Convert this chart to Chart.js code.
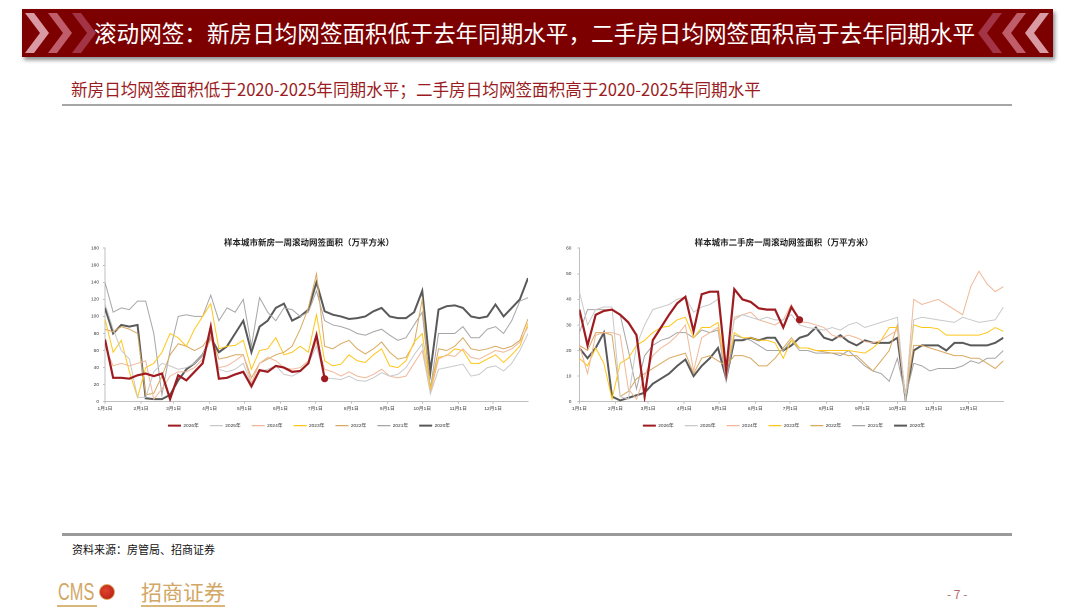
<!DOCTYPE html>
<html><head><meta charset="utf-8">
<script src="https://cdn.jsdelivr.net/npm/chart.js@4.4.1/dist/chart.umd.min.js"></script>
<style>
html,body{margin:0;padding:0;background:#fff;}
body{width:1080px;height:608px;position:relative;overflow:hidden;font-family:"Noto Sans CJK SC","Noto Sans",sans-serif;}
#banner{position:absolute;left:22px;top:9px;width:1031px;height:48px;background:#7d0000;box-shadow:2px 3px 4px rgba(0,0,0,0.45);}
#banner svg{position:absolute;left:0;top:0;}
#title{position:absolute;left:94px;top:9px;height:48px;line-height:48px;color:#fff;font-size:22.6px;white-space:nowrap;}
#subtitle{position:absolute;left:71px;top:78px;line-height:22px;color:#9a1c22;font-size:16.6px;white-space:nowrap;}
.hline{position:absolute;left:62px;width:950px;}
#source{position:absolute;left:72px;top:540px;font-size:11px;line-height:18px;color:#111;white-space:nowrap;}
#logoCMS{position:absolute;left:58px;top:577px;font-family:"Liberation Sans",sans-serif;font-size:24px;line-height:30px;color:#d2a766;transform:scaleX(0.68);transform-origin:left top;}
#logoIcon{position:absolute;left:99px;top:584px;width:16px;height:16px;border-radius:50%;background:radial-gradient(circle at 40% 40%,#e0452c,#b01812);border:1px solid #d9a55a;box-sizing:border-box;}
#logoCN{position:absolute;left:141px;top:577px;font-size:21px;line-height:28px;color:#d2a766;white-space:nowrap;}
.uline{position:absolute;top:605px;height:1.5px;background:#d9b77a;}
#page{position:absolute;left:947px;top:585px;font-size:12px;line-height:18px;color:#b56a6a;white-space:nowrap;}
.chartbox{position:absolute;}
</style>
</head>
<body>
<div id="banner">
<svg width="1031" height="48" viewBox="0 0 1031 48">
  <polygon points="3,4 12,4 27,24 12,44 3,44 18,24" fill="#d99aa3"/>
  <polygon points="26,4 35,4 50,24 35,44 26,44 41,24" fill="#bf5d6a"/>
  <polygon points="50,4 59,4 74,24 59,44 50,44 65,24" fill="#a23445"/>
  <polygon points="980,4 971,4 956,24 971,44 980,44 965,24" fill="#a23445"/>
  <polygon points="1004,4 995,4 980,24 995,44 1004,44 989,24" fill="#bf5d6a"/>
  <polygon points="1027,4 1018,4 1003,24 1018,44 1027,44 1012,24" fill="#d99aa3"/>
</svg>
</div>
<div id="title">滚动网签：新房日均网签面积低于去年同期水平，二手房日均网签面积高于去年同期水平</div>
<div id="subtitle">新房日均网签面积低于2020-2025年同期水平；二手房日均网签面积高于2020-2025年同期水平</div>
<div class="hline" style="top:104px;height:2px;background:#a6a6a6;"></div>

<div class="chartbox" style="left:60px;top:235px;width:480px;height:203px;"><canvas id="cvNew" width="480" height="203"></canvas></div>
<div class="chartbox" style="left:540px;top:235px;width:476px;height:203px;"><canvas id="cvSec" width="476" height="203"></canvas></div>

<div class="hline" style="top:533px;height:2.5px;background:#9a9a9a;"></div>
<div id="source">资料来源：房管局、招商证券</div>
<div id="logoCMS">CMS</div>
<div id="logoIcon"></div>
<div id="logoCN">招商证券</div>
<div class="uline" style="left:57px;width:40px;"></div>
<div class="uline" style="left:141px;width:84px;"></div>
<div id="page">- 7 -</div>

<script>
// ---- categories (day of year, weekly samples) ----
const weekDays = [0,7,14,21,28,35,42,49,56,63,70,77,84,91,98,105,112,119,126,133,140,147,154,161,168,175,182,189,196,203,210,217,224,231,238,245,252,259,266,273,280,287,294,301,308,315,322,329,336,343,350,357,364];
const monthTickDays = [0,31,59,90,120,151,181,212,243,273,304,334];
const monthTickLabels = ['1月1日','2月1日','3月1日','4月1日','5月1日','6月1日','7月1日','8月1日','9月1日','10月1日','11月1日','12月1日'];
const seriesNames = ['2026年','2025年','2024年','2023年','2022年','2021年','2020年'];

// ---- new homes: weekly rolling signed area (万平方米) ----
const newTicksY = [0,20,40,60,80,100,120,140,160,180];
const new2026 = [73,28,28,27,31,33,30,33,3,31,25,35,45,88,27,28,32,35,18,37,35,42,40,35,36,45,78,27];
const new2025 = [115,85,60,50,5,5,35,45,42,38,40,45,55,80,38,35,38,45,20,35,38,42,32,30,35,45,65,28,27,26,30,25,24,28,34,30,32,40,55,68,9,38,40,42,44,30,32,40,42,36,45,60,80];
const new2024 = [65,42,45,42,45,48,3,15,30,35,35,40,50,75,40,42,48,55,22,45,52,48,40,38,40,48,70,38,35,30,35,30,28,32,38,30,28,30,45,60,10,50,55,53,62,52,50,55,60,58,62,70,88];
const new2023 = [97,58,72,35,5,40,45,58,80,75,65,85,100,115,62,65,66,72,38,60,62,75,55,58,65,58,102,48,42,44,55,48,46,55,62,42,40,48,70,80,15,52,54,62,60,45,45,50,55,46,55,65,92];
const new2022 = [85,82,88,85,80,8,10,30,55,68,65,60,65,78,50,52,55,55,28,45,50,55,58,65,85,110,150,65,62,68,72,62,56,62,70,58,50,52,68,120,12,62,60,65,75,62,60,62,65,62,65,72,97];
const new2021 = [140,105,110,108,118,118,80,8,60,100,102,100,100,125,95,110,105,120,65,122,105,95,110,108,100,105,130,95,90,88,85,80,78,82,85,78,72,75,90,105,15,80,80,80,88,75,75,85,88,80,95,118,122];
const new2020 = [110,80,90,88,90,4,3,3,8,25,38,45,55,75,58,65,80,95,58,88,95,110,115,95,100,108,140,106,102,100,97,98,100,106,110,100,98,98,105,130,35,108,112,113,110,100,98,100,114,100,110,120,145];

// ---- second-hand homes: weekly rolling signed area (万平方米) ----
const secTicksY = [0,10,20,30,40,50,60];
const sec2026 = [36,22,34,35.5,36,34,31,26,2,24,29,34,38.5,41,27.5,42,43,43,12,44,40,39,36.5,36,36,29,37,32];
const sec2025 = [43,30,36,37,37,2,1,22,30,36,37,38,40,41,35,37,38,40,12,32,34,33,32,33,32,32,34,30,29,28.5,28,29,28,30,31,29,30,31,32,33,1,32,33,32.5,32,31.5,31,33,32,31,31.5,32,37];
const sec2024 = [22,11,26,27,27,26,5,1,10,18,21,23,26,30,12,25,27,29,10,33,34,35,32,31,30,32,38,31,31,30,29,26,25,26,25,23.5,23,24,26,28,1,40,38,39,40,38,36,34,45,51,46,43,45];
const sec2023 = [17,14,21,15,1,15,17,22,24,27,29,29.5,32,33,25,29,29,31,12,27,25,25,24,24,23,17,24,21,21,20,20,20,20,20,19.5,19,21,24,29,29,1,30,29,29,28.5,26,26,26,26,26,27,29,27.5];
const sec2022 = [22,20,27,27,26,2,4,9,11,13,15,17,18,19,11,17,18,16,14,18,18,17,14,14,17,21,25,21,21,20,19.5,19,19,18,18,15,12,16,20,30,2,22,22,21,20,19,18,18,17,17,15,13,16];
const sec2021 = [27,36,36,36,36,34,20,5,18,22,24,25,27,27,25,28,27,28,8,26,25,24,22,20,20,20,24,20,20,19,19,19,18,20,17,14,12,11,8,17,2,15,14,12,13,13,13,14,16,15,17,17,20];
const sec2020 = [21,17,21,27,2,0.5,1.5,2.5,3.5,7,9,11,14,16.5,10,14,17,21,9,24,24,25,24,25,25,20,22,25,26,29,25,24,26,23.5,22,24,23,23,23,25,1,20,22,22,22,20,23,23,22,22,22,23,25];

// ---- styles ----
const seriesColors = ['#9e1b20','#c9c9c9','#f0b898','#ffc61a','#d8a961','#a6a6a6','#595959'];
const seriesWidths = [2.2,1,1,1,1,1,2];
const FONT = '"Liberation Sans","Noto Sans CJK SC",sans-serif';

function makeDatasets(arrays) {
  return arrays.map((vals, k) => {
    const last = vals.length - 1;
    return {
      label: seriesNames[k],
      data: vals.map((v, i) => ({x: weekDays[i], y: v})),
      borderColor: seriesColors[k],
      backgroundColor: seriesColors[k],
      borderWidth: seriesWidths[k],
      tension: 0,
      pointRadius: k === 0 ? (ctx => ctx.dataIndex === last ? 3.6 : 0) : 0,
      pointHoverRadius: 0,
      pointBackgroundColor: seriesColors[k],
      pointBorderWidth: 0
    };
  });
}

function makeChart(id, title, arrays, yTicks, padL, padR, yWidth, yPad) {
  const yMax = yTicks[yTicks.length - 1];
  const step = yTicks[1] - yTicks[0];
  return new Chart(document.getElementById(id), {
    type: 'line',
    data: { datasets: makeDatasets(arrays) },
    options: {
      responsive: false,
      animation: false,
      devicePixelRatio: 2,
      layout: { padding: { left: padL, right: padR, top: 0, bottom: 0 } },
      plugins: {
        title: { display: true, text: title, color: '#222',
                 font: { family: FONT, size: 8.5, weight: 'bold' },
                 padding: { top: 3, bottom: 0 } },
        legend: {
          position: 'bottom',
          labels: {
            usePointStyle: true, pointStyleWidth: 13, padding: 11,
            color: '#333', font: { family: FONT, size: 4.8 },
            generateLabels: chart => chart.data.datasets.map((ds, i) => ({
              text: ds.label, strokeStyle: ds.borderColor, fillStyle: ds.borderColor,
              lineWidth: i === 0 || i === 6 ? 2 : 1.3, pointStyle: 'line',
              hidden: false, datasetIndex: i, fontColor: '#333'
            }))
          }
        },
        tooltip: { enabled: false }
      },
      scales: {
        x: {
          type: 'linear', min: 0, max: 364,
          afterBuildTicks: s => { s.ticks = monthTickDays.map(v => ({ value: v })); },
          afterFit: s => { s.height = 10.5; },
          ticks: {
            autoSkip: false, maxRotation: 0, padding: 2, color: '#333',
            font: { family: FONT, size: 4.8 },
            callback: v => monthTickLabels[monthTickDays.indexOf(v)]
          },
          grid: { display: true, drawOnChartArea: false, drawTicks: true, tickLength: 2, color: '#bfbfbf' },
          border: { display: true, color: '#bfbfbf', width: 1 }
        },
        y: {
          min: 0, max: yMax,
          afterBuildTicks: s => { s.ticks = yTicks.map(v => ({ value: v })); },
          afterFit: s => { s.width = yWidth; },
          ticks: { stepSize: step, padding: yPad, color: '#333', font: { family: FONT, size: 4.8 } },
          grid: { display: true, drawOnChartArea: false, drawTicks: true, tickLength: 2, color: '#bfbfbf' },
          border: { display: true, color: '#bfbfbf', width: 1 }
        }
      }
    }
  });
}

makeChart('cvNew', '样本城市新房一周滚动网签面积（万平方米）',
  [new2026, new2025, new2024, new2023, new2022, new2021, new2020], newTicksY, 30, 12, 15, 4);
makeChart('cvSec', '样本城市二手房一周滚动网签面积（万平方米）',
  [sec2026, sec2025, sec2024, sec2023, sec2022, sec2021, sec2020], secTicksY, 24.4, 12.6, 15, 6);
</script>
</body></html>
